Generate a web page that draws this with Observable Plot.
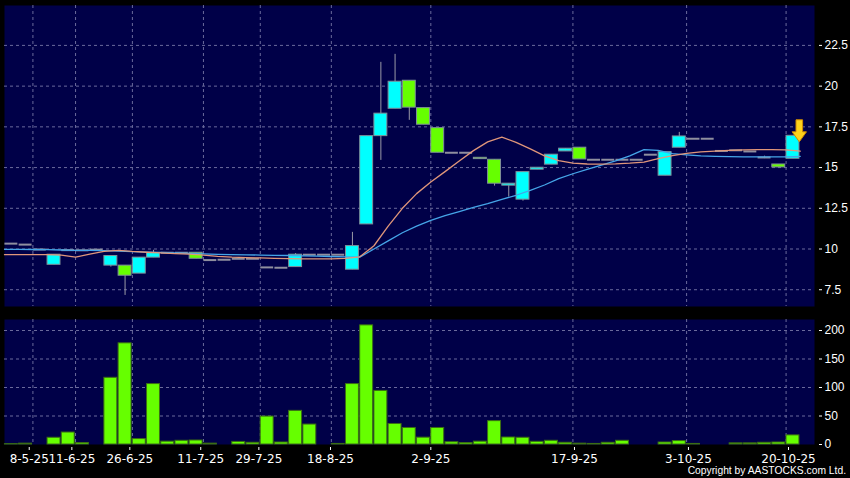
<!DOCTYPE html>
<html><head><meta charset="utf-8">
<script src="https://cdn.jsdelivr.net/npm/d3@7"></script>
<script src="https://cdn.jsdelivr.net/npm/@observablehq/plot@0.6"></script>
<style>
html,body{margin:0;padding:0;background:#000;}
#chart{position:relative;width:850px;height:478px;background:#000;overflow:hidden;}
#top{position:absolute;left:0;top:0;}
#bottom{position:absolute;left:0;top:312px;}
#copy{position:absolute;right:4px;top:466px;line-height:10px;font-size:10.3px;font-family:"Liberation Sans",Arial,sans-serif;color:#fff;white-space:nowrap;}
</style></head><body>
<div id="chart"><div id="top"></div><div id="bottom"></div><div id="copy">Copyright by AASTOCKS.com Ltd.</div></div>
<script>
// ---- data (one entry per trading slot) ----
const openP = [10.33,10.27,9.97,9.03,9.93,9.92,9.96,8.98,8.98,8.49,
  9.47,9.77,9.77,9.77,9.32,9.34,9.40,9.40,8.87,8.85,
  8.89,9.65,9.65,9.65,8.73,11.51,16.93,18.61,20.33,18.65,
  17.42,15.91,15.91,15.60,15.48,13.89,13.03,14.87,15.18,15.99,
  16.22,15.48,15.48,15.48,15.48,15.79,14.50,16.22,16.77,16.77,
  16.02,16.06,15.99,15.62,15.19,15.54];
const highP = [10.33,10.27,9.97,9.65,9.93,9.92,9.96,9.57,8.98,9.47,
  9.92,9.77,9.77,9.77,9.32,9.34,9.40,9.40,8.87,8.85,
  9.72,9.65,9.65,9.65,11.02,16.93,21.46,21.95,20.33,18.65,
  17.42,15.91,15.91,15.60,15.48,14.01,14.72,14.99,15.79,16.16,
  16.22,15.48,15.48,15.48,15.48,15.79,15.95,17.16,16.77,16.77,
  16.02,16.06,15.99,15.70,15.19,16.95];
const lowP = [10.33,10.27,9.97,9.03,9.93,9.92,9.96,8.89,7.15,8.49,
  9.47,9.77,9.77,9.40,9.32,9.34,9.40,9.40,8.87,8.85,
  8.89,9.65,9.65,9.65,8.73,11.51,15.44,18.61,17.90,17.63,
  15.91,15.91,15.91,15.52,13.86,13.19,12.94,14.87,15.18,15.99,
  15.50,15.48,15.48,15.48,15.48,15.79,14.50,16.22,16.77,16.77,
  16.02,16.06,15.99,15.55,15.01,15.54];
const closeP = [10.33,10.27,9.97,9.65,9.93,9.92,9.96,9.57,8.36,9.47,
  9.75,9.77,9.77,9.40,9.32,9.34,9.40,9.40,8.87,8.85,
  9.65,9.65,9.65,9.65,10.18,16.93,18.31,20.27,18.68,17.63,
  15.91,15.91,15.91,15.52,14.01,14.01,14.72,14.99,15.79,16.16,
  15.50,15.48,15.48,15.48,15.48,15.79,15.95,16.91,16.77,16.77,
  16.02,16.06,15.99,15.62,15.01,16.95];
const volume = [0.5,1.5,0,11.8,21,2.5,0,117,177.5,9.5,
  106,5,6.5,7,1.5,0,4.5,3,49,3.5,
  59,35,0,1,106,209,94,36,29,12,
  29,4,2.5,5,41,12.3,11.8,4.7,6.5,3,
  1.5,1,3,6.5,0,0,3.5,6,1,0,
  0,2,2,3,3.5,16];
// moving averages, read at slot boundaries (57 points)
const maFast = [9.65,9.65,9.65,9.65,9.62,9.50,9.68,9.85,9.92,9.85,
  9.80,9.76,9.72,9.68,9.63,9.55,9.50,9.47,9.45,9.43,
  9.41,9.40,9.40,9.40,9.42,9.52,10.20,11.40,12.50,13.40,
  14.11,14.75,15.40,16.04,16.58,16.87,16.55,16.15,15.72,15.42,
  15.27,15.22,15.21,15.23,15.27,15.34,15.55,15.73,15.87,15.96,
  16.01,16.05,16.08,16.10,16.10,16.09,16.01];
const maSlow = [9.98,9.98,9.97,9.96,9.94,9.92,9.91,9.90,9.87,9.84,
  9.81,9.79,9.76,9.73,9.70,9.67,9.65,9.64,9.63,9.61,
  9.60,9.58,9.56,9.54,9.52,9.50,10.00,10.50,11.00,11.40,
  11.76,12.05,12.30,12.55,12.78,13.05,13.30,13.60,13.93,14.32,
  14.62,14.89,15.15,15.41,15.72,16.10,16.05,15.85,15.78,15.72,
  15.69,15.67,15.66,15.66,15.66,15.66,15.69];
const xGridAt = [2,5,9,14,18,23,30,40,48,55];
const xTickAt = [1.74,4.74,8.82,13.81,17.90,22.94,30.0,40.11,48.13,55.17];
const xTickLabels = ["8-5-25","11-6-25","26-6-25","11-7-25","29-7-25","18-8-25","2-9-25","17-9-25","3-10-25","20-10-25"];
const priceTicks = [7.5,10,12.5,15,17.5,20,22.5];
const volTicks = [0,50,100,150,200];

// ---- styles ----
const navy = "#000048";
const gridColor = "#6a6a9c";
const cyan = "#00ffff", lime = "#66ff00";
const gridOpts = {stroke: gridColor, strokeOpacity: 1, strokeDasharray: "3,3", strokeWidth: 1};

const candles = openP.map((o, i) => ({i, o, h: highP[i], l: lowP[i], c: closeP[i], v: volume[i]}));
const maIdx = d3.range(maFast.length);
const last = candles[candles.length - 1];

const arrowSymbol = {
  draw(ctx, size) {
    const k = Math.sqrt(size / Math.PI) / 10;
    ctx.moveTo(0, 0);
    ctx.lineTo(-7.2 * k, -10 * k);
    ctx.lineTo(-3.3 * k, -10 * k);
    ctx.lineTo(-3.3 * k, -22 * k);
    ctx.lineTo(3.3 * k, -22 * k);
    ctx.lineTo(3.3 * k, -10 * k);
    ctx.lineTo(7.2 * k, -10 * k);
    ctx.closePath();
  }
};

const topPlot = Plot.plot({
  width: 850, height: 312,
  marginTop: 5, marginBottom: 6, marginLeft: 4, marginRight: 36,
  x: {domain: [0, 57], axis: null},
  y: {domain: [6.47, 24.95], axis: null},
  style: {background: "transparent", color: "#fff", overflow: "visible"},
  marks: [
    Plot.frame({fill: navy, stroke: "none"}),
    Plot.gridY(priceTicks, gridOpts),
    Plot.gridX(xGridAt, gridOpts),
    Plot.ruleX(candles.filter(d => d.h > d.l), {x: d => d.i + 0.485, y1: "l", y2: "h", stroke: "#9a9aa6", strokeWidth: 1}),
    Plot.rect(candles.filter(d => d.o !== d.c), {
      x1: d => d.i + 0.03, x2: d => d.i + 0.94, y1: "o", y2: "c",
      fill: d => d.c > d.o ? cyan : lime, stroke: "#7f8f99", strokeWidth: 1
    }),
    Plot.ruleY(candles.filter(d => d.o === d.c), {
      y: "c", x1: d => d.i + 0.03, x2: d => d.i + 0.94, stroke: "#8f8f9f", strokeWidth: 2
    }),
    Plot.line(maIdx, {x: d => d, y: d => maSlow[d], stroke: "#45a5e8", strokeWidth: 1.3}),
    Plot.line(maIdx, {x: d => d, y: d => maFast[d], stroke: "#e0967a", strokeWidth: 1.3}),
    Plot.dot([last], {x: d => d.i + 0.93, y: "c", dy: 6, r: 10, symbol: arrowSymbol,
      fill: "#ffd21a", stroke: "#d08a00", strokeWidth: 1}),
    Plot.axisY(priceTicks, {anchor: "right", tickSize: 3, dx: 4, tickPadding: 3, fontSize: 12,
      fontFamily: "Liberation Sans, Arial, sans-serif", label: null, tickFormat: d => String(d)})
  ]
});
document.getElementById("top").appendChild(topPlot);

const bottomPlot = Plot.plot({
  width: 850, height: 166,
  marginTop: 7, marginBottom: 34, marginLeft: 4, marginRight: 36,
  x: {domain: [0, 57], axis: null},
  y: {domain: [0, 219.3], axis: null},
  style: {background: "transparent", color: "#fff", overflow: "visible"},
  marks: [
    Plot.frame({fill: navy, stroke: "none"}),
    Plot.gridY(volTicks.filter(d => d > 0), gridOpts),
    Plot.gridX(xGridAt, gridOpts),
    Plot.rect(candles.filter(d => d.v > 0), {
      x1: d => d.i + 0.03, x2: d => d.i + 0.94, y1: 0, y2: "v",
      fill: lime, stroke: "#3c6e14", strokeWidth: 1
    }),
    Plot.axisY(volTicks, {anchor: "right", tickSize: 3, dx: 4, tickPadding: 3, fontSize: 12,
      fontFamily: "Liberation Sans, Arial, sans-serif", label: null, tickFormat: d => String(d)}),
    Plot.axisX(xTickAt, {anchor: "bottom", tickSize: 3, dy: 3, tickPadding: 4, fontSize: 12,
      fontFamily: "DejaVu Sans, sans-serif", label: null,
      tickFormat: d => xTickLabels[xTickAt.indexOf(d)]})
  ]
});
document.getElementById("bottom").appendChild(bottomPlot);
</script>
</body></html>
